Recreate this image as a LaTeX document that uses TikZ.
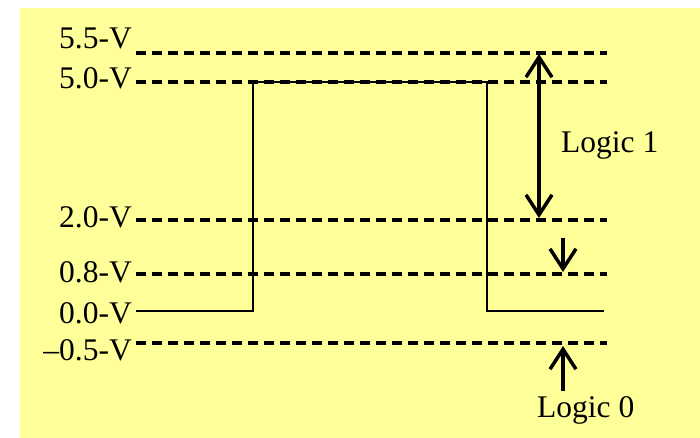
\documentclass[tikz,border=0pt]{standalone}
\usepackage{fontspec}
\setmainfont{Liberation Serif}
\usetikzlibrary{arrows.meta}
\definecolor{bgyellow}{RGB}{255,255,153}
\tikzset{
  lvl/.style={anchor=base east,inner sep=0pt,font=\fontsize{31.5}{31.5}\selectfont},
  lbl/.style={anchor=base west,inner sep=0pt,font=\fontsize{31.5}{31.5}\selectfont},
  dashline/.style={line width=3.3pt,dash pattern=on 10pt off 6pt},
  sig/.style={line width=2.2pt},
  bar/.style={line width=3.5pt,-{Straight Barb[length=20pt,width=26pt,line width=3.5pt]}},
  dbar/.style={line width=3.5pt,{Straight Barb[length=20pt,width=26pt,line width=3.5pt]}-{Straight Barb[length=20pt,width=26pt,line width=3.5pt]}}
}
\begin{document}
\begin{tikzpicture}[x=1pt,y=-1pt]
\useasboundingbox (0,0) rectangle (700,438);
\fill[bgyellow] (20,8) rectangle (700,438);
% labels
\node[lvl] (l55) at (132,49) {5.5-V};
\node[lvl] (l50) at (132,89) {5.0-V};
\node[lvl] (l20) at (132,227) {2.0-V};
\node[lvl] (l08) at (132,282) {0.8-V};
\node[lvl] (l00) at (132,323) {0.0-V};
\node[lvl] (lm5) at (132,360) {–0.5-V};
% level line coordinates
\coordinate (s55) at (136,53);  \coordinate (e55) at (607,53);
\coordinate (s50) at (136,82);  \coordinate (e50) at (607,82);
\coordinate (s20) at (136,220); \coordinate (e20) at (607,220);
\coordinate (s08) at (136,274); \coordinate (e08) at (607,274);
\coordinate (sm5) at (136,343); \coordinate (em5) at (607,343);
\draw[dashline] (s55) -- (e55);
\draw[dashline] (s50) -- (e50);
\draw[dashline] (s20) -- (e20);
\draw[dashline] (s08) -- (e08);
\draw[dashline] (sm5) -- (em5);
% pulse
\coordinate (p0) at (136,311);
\coordinate (p1) at (253,311);
\coordinate (p2) at (253,82);
\coordinate (p3) at (487,82);
\coordinate (p4) at (487,311);
\coordinate (p5) at (604,311);
\draw[sig] (p0) -- (p1) -- (p2) -- (p3) -- (p4) -- (p5);
% logic 1
\coordinate (a1t) at (539,54);
\coordinate (a1b) at (539,218);
\draw[dbar] (a1t) -- (a1b);
\node[lbl] (log1) at (561,153) {Logic 1};
% logic 0 arrows
\coordinate (a2s) at (563,238);
\coordinate (a2e) at (563,272);
\draw[bar] (a2s) -- (a2e);
\coordinate (a3s) at (563,391);
\coordinate (a3e) at (563,346);
\draw[bar] (a3s) -- (a3e);
\node[lbl] (log0) at (537,417) {Logic 0};
\end{tikzpicture}
\end{document}
